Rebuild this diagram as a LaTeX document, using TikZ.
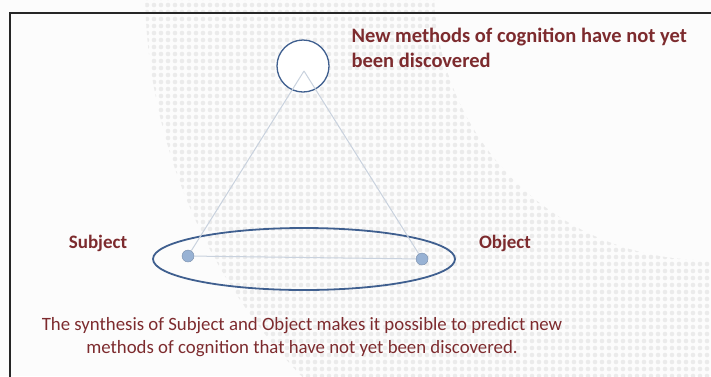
\documentclass[tikz,border=0pt]{standalone}
\usepackage{fontspec}
\setmainfont{Carlito}
\usepackage{tikz}
\usetikzlibrary{shapes.geometric}
\usetikzlibrary{patterns.meta}

\definecolor{darkred}{HTML}{7D2B2E}
\definecolor{ringblue}{HTML}{3F5F8F}
\definecolor{dotblue}{HTML}{98B2D4}
\definecolor{linegray}{HTML}{C9D2DE}
\definecolor{paper}{HTML}{FCFCFC}

\tikzset{
  heading/.style={text=darkred, font=\bfseries\fontsize{20.5}{25}\selectfont, align=left},
  sidelabel/.style={text=darkred, font=\bfseries\fontsize{19}{22}\selectfont},
  caption/.style={text=darkred, font=\fontsize{18.8}{23}\selectfont, align=center},
  pointdot/.style={circle, fill=dotblue, draw=dotblue!80!black, line width=0.4pt, inner sep=0pt, minimum size=12pt},
  edge/.style={draw=linegray, line width=1pt}
}

\begin{document}
\begin{tikzpicture}[x=1pt,y=-1pt]
  % Fix the page to the picture size
  \useasboundingbox (0,0) rectangle (711,376);
  \clip (0,0) rectangle (711,376);

  % Draw the background and the dotted band
  \fill[paper] (0,0) rectangle (711,376);
  \begin{scope}
    \clip (707,-13) circle (562pt);
    \fill[pattern={Dots[radius=2.3pt,distance=7pt]}, pattern color=black!8] (0,0) rectangle (711,376);
  \end{scope}
  \fill[paper] (707,-13) circle (273pt);

  % Draw the frame
  \draw[line width=2.5pt, black!85] (10,13) rectangle (720,390);

  % Place the three corners
  \node[circle, draw=ringblue, line width=1.3pt, fill=white, minimum size=52pt, inner sep=0pt] (top) at (303,66) {};
  \coordinate (apex) at (304,71);
  \node[ellipse, draw=ringblue, line width=1.8pt, minimum width=302pt, minimum height=62pt] (pair) at (304,259) {};
  \node[pointdot] (subj) at (188,256) {};
  \node[pointdot] (obj) at (422,259) {};

  % Draw the triangle
  \draw[edge] (apex) -- (subj);
  \draw[edge] (apex) -- (obj);
  \draw[edge] (subj) -- (obj);

  % Labels
  \node[heading, anchor=west] (newtext) at (348,48) {New methods of cognition have not yet\\been discovered};
  \node[sidelabel] (subjlabel) at (98,243) {Subject};
  \node[sidelabel] (objlabel) at (505,243) {Object};
  \node[caption] (synth) at (302,337) {The synthesis of Subject and Object makes it possible to predict new\\methods of cognition that have not yet been discovered.};

\end{tikzpicture}
\end{document}
